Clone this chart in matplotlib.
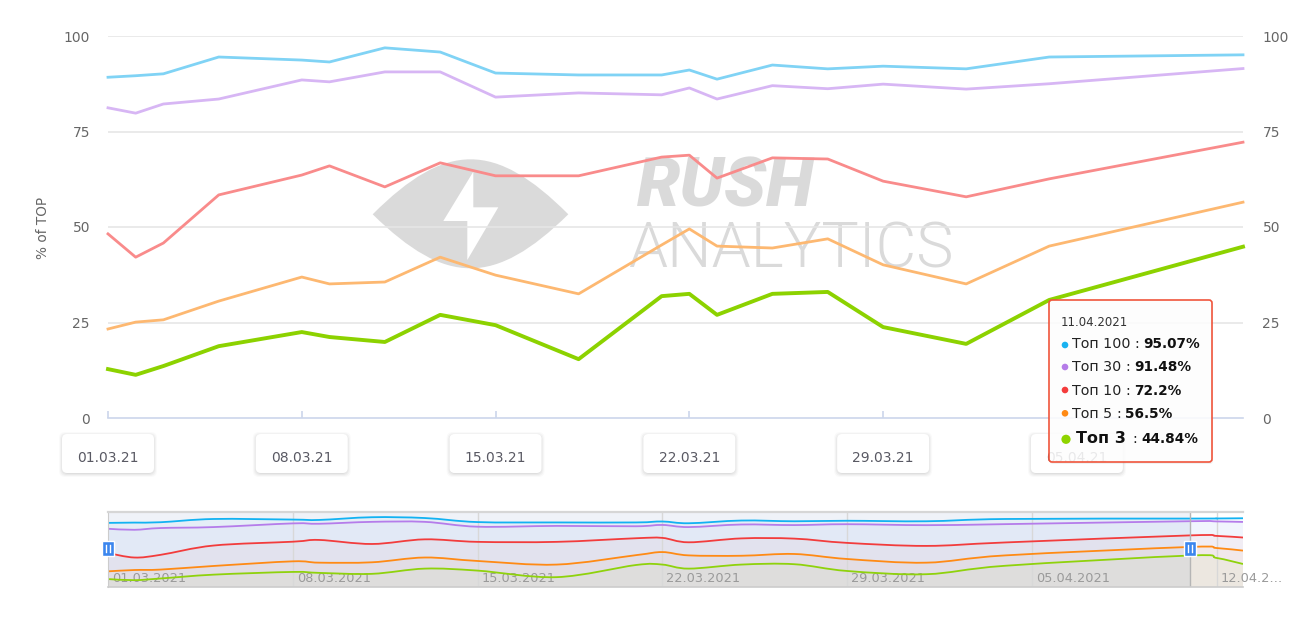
import matplotlib
matplotlib.use('Agg')
import matplotlib.pyplot as plt
import matplotlib.dates as mdates
import matplotlib.transforms as mtransforms
from matplotlib.patches import FancyBboxPatch, Rectangle, PathPatch, Polygon, Circle
from matplotlib.path import Path
from matplotlib import font_manager as fm
import pandas as pd

W, H = 1310, 634

# ---------------- data ----------------
dates = ['2021-03-01', '2021-03-02', '2021-03-03', '2021-03-05', '2021-03-08',
         '2021-03-09', '2021-03-11', '2021-03-13', '2021-03-15', '2021-03-18',
         '2021-03-21', '2021-03-22', '2021-03-23', '2021-03-25', '2021-03-27',
         '2021-03-29', '2021-04-01', '2021-04-04', '2021-04-11']
top100 = [89.2, 89.6, 90.1, 94.5, 93.7, 93.2, 96.9, 95.8, 90.3, 89.8,
          89.8, 91.1, 88.7, 92.4, 91.4, 92.1, 91.4, 94.5, 95.07]
top30 = [81.2, 79.8, 82.2, 83.5, 88.5, 88.0, 90.6, 90.6, 84.0, 85.1,
         84.6, 86.4, 83.5, 87.0, 86.2, 87.4, 86.1, 87.5, 91.48]
top10 = [48.2, 42.1, 45.8, 58.4, 63.6, 66.0, 60.5, 66.8, 63.4, 63.4,
         68.3, 68.8, 62.8, 68.1, 67.8, 62.0, 57.9, 62.6, 72.2]
top5 = [23.3, 25.1, 25.7, 30.6, 36.9, 35.1, 35.6, 42.1, 37.4, 32.5,
        45.3, 49.5, 45.0, 44.5, 46.9, 40.1, 35.1, 45.0, 56.5]
top3 = [12.8, 11.3, 13.6, 18.8, 22.5, 21.2, 19.9, 27.0, 24.3, 15.4,
        31.9, 32.5, 27.0, 32.5, 33.0, 23.8, 19.4, 30.9, 44.84]

# navigator continues past the selected range
nav_extra_dates = ['2021-04-12', '2021-04-13']
nav_extra_top100 = [95.2, 95.5]
nav_extra_top30 = [91.2, 90.5]
nav_extra_top10 = [71.5, 69.3]
nav_extra_top5 = [55.0, 51.5]
nav_extra_top3 = [41.5, 33.3]

series_names = ['Топ 100', 'Топ 30', 'Топ 10', 'Топ 5', 'Топ 3']
tooltip_date = '11.04.2021'
tooltip_values = ['95.07%', '91.48%', '72.2%', '56.5%', '44.84%']
main_tick_dates = ['2021-03-01', '2021-03-08', '2021-03-15', '2021-03-22', '2021-03-29', '2021-04-05']
main_tick_labels = ['01.03.21', '08.03.21', '15.03.21', '22.03.21', '29.03.21', '05.04.21']
nav_tick_dates = ['2021-03-01', '2021-03-08', '2021-03-15', '2021-03-22', '2021-03-29', '2021-04-05', '2021-04-12']
nav_tick_labels = ['01.03.2021', '08.03.2021', '15.03.2021', '22.03.2021', '29.03.2021', '05.04.2021', '12.04.2…']
y_ticks = [0, 25, 50, 75, 100]
y_label = '% of TOP'
watermark_words = ['RUSH', 'ANALYTICS']

# ---------------- styles ----------------
main_colors = ['#80d3f5', '#d7b6f4', '#f98b8b', '#fdb871', '#8cd200']
main_lw = [2.0, 2.0, 2.0, 2.0, 2.8]
nav_colors = ['#12b2f2', '#b57cea', '#f23c3c', '#ff8a14', '#8fd20c']
dot_colors = ['#1ab2f0', '#b57ce8', '#f43c3c', '#ff8a14', '#8fd400']

plt.rcParams['font.family'] = ['DejaVu Sans']

fig = plt.figure(figsize=(W / 100, H / 100), dpi=100)
fig.patch.set_facecolor('white')
renderer = fig.canvas.get_renderer()


def fx(x):
    return x / W


def fy(y):
    return 1 - y / H


def _w(f):
    try:
        return int(f.weight)
    except Exception:
        return {'thin': 100, 'light': 300, 'normal': 400, 'regular': 400, 'medium': 500,
                'bold': 700, 'heavy': 800, 'black': 900}.get(str(f.weight), 400)


roboto = [f for f in fm.fontManager.ttflist if f.name == 'Roboto']
rush_fp = fm.FontProperties(family=['Roboto', 'DejaVu Sans'], weight='bold', style='italic')
anal_fp = fm.FontProperties(family=['Roboto', 'DejaVu Sans'], weight='light')
if roboto:
    it = [f for f in roboto if f.style == 'italic']
    if it:
        rush_fp = fm.FontProperties(fname=max(it, key=_w).fname)
    up = [f for f in roboto if f.style == 'normal']
    if up:
        anal_fp = fm.FontProperties(fname=min(up, key=lambda f: abs(_w(f) - 300) + (5 if _w(f) < 300 else 0)).fname)

# overlay axes in pixel coordinates (for decorations)
ov = fig.add_axes([0, 0, 1, 1], zorder=10)
ov.set_xlim(0, W)
ov.set_ylim(H, 0)
ov.axis('off')
ov.patch.set_alpha(0)

# ---------------- main axes ----------------
x = mdates.date2num(pd.to_datetime(dates))
ax = fig.add_axes([fx(108), fy(418), fx(1243) - fx(108), fy(36) - fy(418)], zorder=2)
ax.patch.set_alpha(0)
ax.set_xlim(x[0], x[-1])
ax.set_ylim(0, 100)
for s in ['top', 'left', 'right']:
    ax.spines[s].set_visible(False)
ax.spines['bottom'].set_color('#ccd6eb')
ax.spines['bottom'].set_linewidth(1.2)
ax.spines['bottom'].set_zorder(1)
tick_x = mdates.date2num(pd.to_datetime(main_tick_dates))
ax.set_xticks(tick_x)
ax.tick_params(axis='x', direction='in', length=5, color='#ccd6eb', width=1.2, labelbottom=False)
ax.set_yticks(y_ticks)
ax.tick_params(axis='y', length=0, labelsize=10, labelcolor='#666666', pad=13)
for yv in y_ticks[1:]:
    ax.axhline(yv, color='#e6e6e6', lw=1.2, zorder=1)

ax2 = ax.twinx()
ax2.set_ylim(0, 100)
ax2.set_yticks(y_ticks)
ax2.tick_params(axis='y', length=0, labelsize=10, labelcolor='#666666', pad=14)
for s in ax2.spines.values():
    s.set_visible(False)

ov.text(43, 228, y_label, rotation=90, ha='center', va='center', fontsize=9.8, color='#666666')

# watermark (under the lines)
eye = Path([(372.7, 214.3), (446, 141), (495, 141), (568.3, 214.3),
            (495, 286.3), (446, 286.3), (372.7, 214.3), (372.7, 214.3)],
           [Path.MOVETO, Path.CURVE4, Path.CURVE4, Path.CURVE4,
            Path.CURVE4, Path.CURVE4, Path.CURVE4, Path.CLOSEPOLY])
ax.add_patch(PathPatch(eye, facecolor='#dadada', edgecolor='none',
                       transform=ov.transData, clip_on=False, zorder=0.5))
bolt = [(443.3, 221), (473.3, 171.7), (473.3, 207.3), (498.3, 207.3), (467.3, 260), (467.3, 221)]
ax.add_patch(Polygon(bolt, closed=True, facecolor='white', edgecolor='none',
                     transform=ov.transData, clip_on=False, zorder=0.6))
for word, fp, x0, yb, target, fs in [(watermark_words[0], rush_fp, 637, 206.7, 177, 44),
                                     (watermark_words[1], anal_fp, 628, 268, 325, 48)]:
    t = ax.text(x0, yb, word, transform=ov.transData, fontproperties=fp, fontsize=fs,
                color='#dadada', ha='left', va='baseline', zorder=0.6)
    wdt = t.get_window_extent(renderer).width
    t.set_fontsize(fs * target / wdt)

main_series = [top100, top30, top10, top5, top3]
for vals, c, lw in zip(main_series, main_colors, main_lw):
    ax.plot(x, vals, color=c, lw=lw, zorder=3, solid_joinstyle='round', clip_on=False)

# date label boxes
for td, lab in zip(tick_x, main_tick_labels):
    px = ax.transData.transform((td, 0))[0]
    for k, a in [(4, 0.02), (3, 0.03), (2, 0.035), (1, 0.045)]:
        ov.add_patch(FancyBboxPatch((px - 46 - k + 1, 434 - k + 2), 92 + 2 * k - 2, 39 + 2 * k - 2,
                                    boxstyle='round,pad=0,rounding_size=6',
                                    facecolor='black', edgecolor='none', alpha=a, zorder=1))
    ov.add_patch(FancyBboxPatch((px - 46, 434), 92, 39, boxstyle='round,pad=0,rounding_size=5',
                                facecolor='white', edgecolor='none', zorder=2))
    ov.text(px, 462, lab, ha='center', va='baseline', fontsize=10, color='#595963', zorder=3)

# ---------------- navigator ----------------
nx = mdates.date2num(pd.to_datetime(dates + nav_extra_dates))
nav_series = [top100 + nav_extra_top100, top30 + nav_extra_top30, top10 + nav_extra_top10,
              top5 + nav_extra_top5, top3 + nav_extra_top3]
axn = fig.add_axes([fx(108), fy(587), fx(1243) - fx(108), fy(512) - fy(587)], zorder=3)
axn.set_xlim(nx[0], nx[-1])
axn.set_ylim(2, 104)
axn.set_xticks([])
axn.set_yticks([])
axn.spines['right'].set_visible(False)
axn.spines['top'].set_color('#d6d6d6')
axn.spines['top'].set_linewidth(1.6)
axn.spines['bottom'].set_color('#cccccc')
axn.spines['bottom'].set_linewidth(1.2)
axn.spines['left'].set_color('#cccccc')


def spline_path(xs, ys, close_to=None):
    # cubic Bezier rendering through the given points (Catmull-Rom style)
    n = len(xs)
    verts = [(xs[0], ys[0])]
    codes = [Path.MOVETO]
    for i in range(n - 1):
        x0, y0 = (xs[i - 1], ys[i - 1]) if i > 0 else (xs[i], ys[i])
        x1, y1 = xs[i], ys[i]
        x2, y2 = xs[i + 1], ys[i + 1]
        x3, y3 = (xs[i + 2], ys[i + 2]) if i + 2 < n else (x2, y2)
        verts += [(x1 + (x2 - x0) / 6, y1 + (y2 - y0) / 6),
                  (x2 - (x3 - x1) / 6, y2 - (y3 - y1) / 6), (x2, y2)]
        codes += [Path.CURVE4] * 3
    if close_to is not None:
        verts += [(xs[-1], close_to), (xs[0], close_to), (xs[0], ys[0])]
        codes += [Path.LINETO, Path.LINETO, Path.CLOSEPOLY]
    return Path(verts, codes)


for vals, c in zip(nav_series, nav_colors):
    axn.add_patch(PathPatch(spline_path(nx, vals, close_to=0), facecolor=c, edgecolor='none',
                            alpha=0.045, zorder=1))
sel_end = x[-1]
axn.axvspan(nx[0], sel_end, color=(102 / 255, 133 / 255, 194 / 255), alpha=0.1, lw=0, zorder=1.5)
nav_tx = mdates.date2num(pd.to_datetime(nav_tick_dates))
off = mtransforms.ScaledTranslation(4 / 100, 0, fig.dpi_scale_trans)
btrans = mtransforms.blended_transform_factory(axn.transData, axn.transAxes)
for td, lab in zip(nav_tx, nav_tick_labels):
    if td > nx[0]:
        axn.axvline(td, color='#d8d8d8', lw=1, zorder=1.6)
    axn.text(td, 0.12, lab, transform=btrans + off,
             ha='left', va='center', fontsize=9.3, color='#9a9a9a', zorder=1.7)
for vals, c in zip(nav_series, nav_colors):
    axn.add_patch(PathPatch(spline_path(nx, vals), facecolor='none', edgecolor=c, lw=1.3, zorder=2))
axn.axvline(sel_end, color='#b5b5b5', lw=1, zorder=2.5)

# handles
for hd in [nx[0], sel_end]:
    hx = axn.transData.transform((hd, 0))[0]
    ov.add_patch(Rectangle((hx - 6, 541), 12, 15, facecolor='#3b86ee', edgecolor='white', lw=1, zorder=5))
    ov.plot([hx - 2, hx - 2], [545, 552], color='white', lw=1, zorder=6)
    ov.plot([hx + 2, hx + 2], [545, 552], color='white', lw=1, zorder=6)

# ---------------- tooltip ----------------
ov.add_patch(FancyBboxPatch((1050, 301), 163, 163, boxstyle='round,pad=0,rounding_size=3',
                            facecolor='black', edgecolor='none', alpha=0.05, zorder=7))
ov.add_patch(FancyBboxPatch((1049, 300), 163, 162, boxstyle='round,pad=0,rounding_size=3',
                            facecolor='white', edgecolor='none', alpha=0.87, zorder=8))
ov.add_patch(FancyBboxPatch((1049, 300), 163, 162, boxstyle='round,pad=0,rounding_size=3',
                            facecolor='none', edgecolor='#f0553c', lw=1.2, zorder=8))
ov.text(1061, 325.7, tooltip_date, fontsize=8.5, color='#333333', ha='left', va='baseline', zorder=9)

row_base = [348.3, 371, 395, 417.7, 443.3]
dot_y = [345, 367, 390, 413.3, 439.3]
for i, (name, val) in enumerate(zip(series_names, tooltip_values)):
    last = (i == len(series_names) - 1)
    r = 4.6 if last else 3.3
    ov.add_patch(Circle((1066 if last else 1065, dot_y[i]), r, facecolor=dot_colors[i], edgecolor='none', zorder=9))
    xs = 1076 if last else 1072
    if last:
        t = ov.text(xs, row_base[i], name, fontsize=11.5, fontweight='bold', color='#111111',
                    ha='left', va='baseline', zorder=9)
    else:
        t = ov.text(xs, row_base[i], name, fontsize=10.3, color='#222222', ha='left', va='baseline', zorder=9)
    bb = t.get_window_extent(renderer)
    xs = bb.x1 + (7 if last else 4)
    t = ov.text(xs, row_base[i], ':', fontsize=10.3, color='#222222', ha='left', va='baseline', zorder=9)
    bb = t.get_window_extent(renderer)
    xs = bb.x1 + 4
    ov.text(xs, row_base[i], val, fontsize=9.8, fontweight='bold', color='#111111',
            ha='left', va='baseline', zorder=9)

fig.savefig('out.png', dpi=100)
